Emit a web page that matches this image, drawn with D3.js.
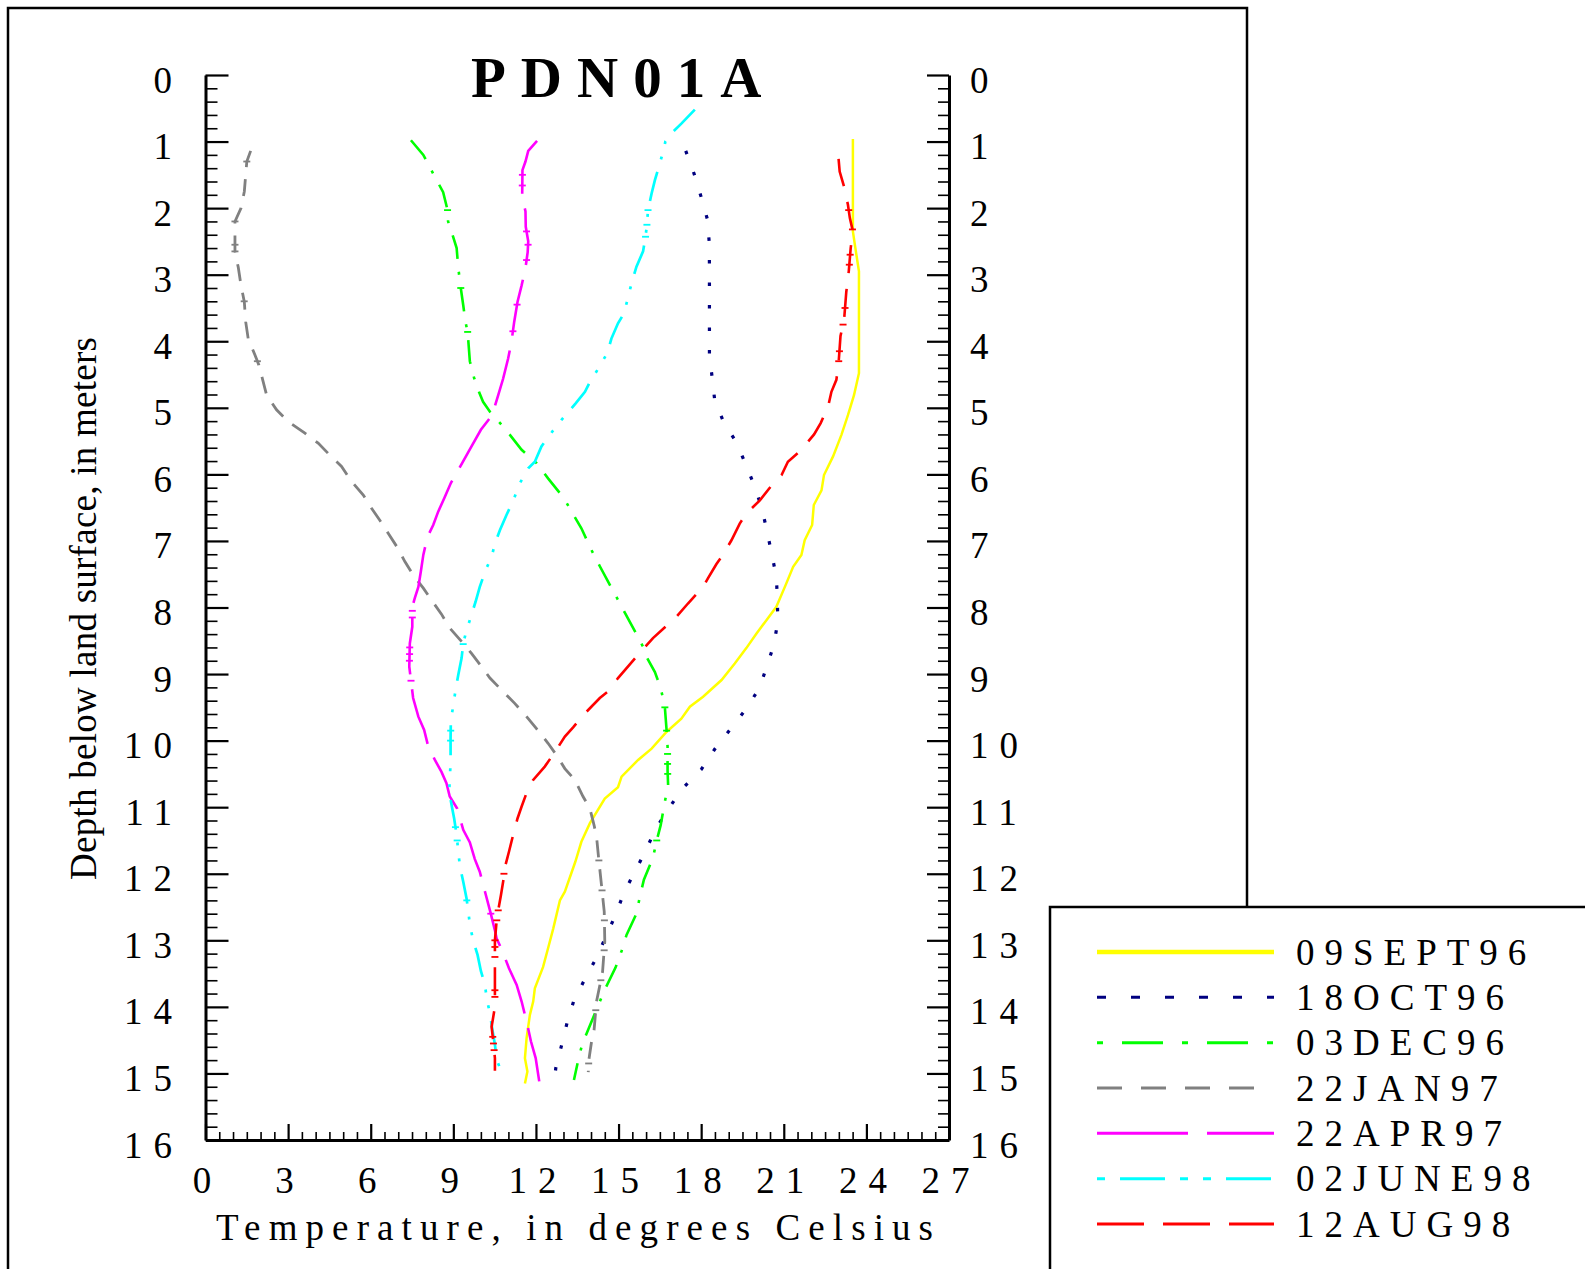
<!DOCTYPE html>
<html><head><meta charset="utf-8">
<script src="https://cdn.jsdelivr.net/npm/d3@7"></script>
<style>body{margin:0;background:#fff}svg{display:block}</style>
</head><body>
<svg id="c" width="1585" height="1269"></svg>
<script>
// ---- data: [depth (m), temperature (deg C)] ----
const sep96 = [[0.96,23.51],[2.35,23.51],[2.6,23.6],[2.95,23.73],[4.48,23.73],[4.81,23.55],[5.11,23.33],[5.41,23.09],[5.73,22.79],[6.01,22.46],[6.24,22.37],[6.46,22.09],[6.76,22.03],[6.99,21.76],[7.21,21.64],[7.39,21.34],[7.66,21.07],[7.99,20.73],[8.19,20.37],[8.39,20.01],[8.61,19.64],[8.84,19.22],[9.09,18.74],[9.34,18.07],[9.49,17.59],[9.67,17.28],[9.87,16.74],[10.12,16.2],[10.29,15.71],[10.54,15.11],[10.7,14.98],[10.87,14.5],[11.24,13.96],[11.52,13.65],[11.82,13.43],[12.27,13.05],[12.4,12.87],[12.82,12.63],[13.12,12.44],[13.4,12.26],[13.72,11.96],[13.92,11.9],[14.12,11.78],[14.47,11.66],[14.77,11.6],[14.97,11.69],[15.15,11.6]];
const oct96 = [[1.14,17.44],[1.48,17.74],[1.82,17.99],[2.16,18.22],[2.5,18.29],[2.85,18.3],[4.21,18.3],[4.55,18.4],[4.88,18.49],[5.22,18.82],[5.52,19.28],[5.85,19.62],[6.19,19.95],[6.52,20.21],[6.85,20.39],[7.21,20.57],[7.54,20.73],[7.89,20.77],[8.22,20.78],[8.56,20.64],[8.9,20.37],[9.2,20.13],[9.52,19.64],[9.83,19.06],[10.13,18.49],[10.43,18.01],[10.71,17.34],[11.02,16.82],[11.33,16.34],[11.65,15.99],[11.97,15.59],[12.28,15.2],[12.62,14.89],[12.95,14.53],[13.26,14.2],[13.58,13.78],[13.9,13.38],[14.24,13.13],[14.58,12.93],[14.92,12.72],[15.0,12.7]];
const dec96 = [[0.98,7.46],[1.2,7.91],[1.53,8.33],[1.76,8.63],[2.03,8.79],[2.2,8.81],[2.35,8.93],[2.6,9.12],[2.9,9.18],[3.2,9.27],[3.46,9.36],[3.71,9.44],[3.86,9.52],[4.3,9.6],[4.56,9.76],[4.76,9.93],[4.91,10.08],[5.06,10.33],[5.31,10.87],[5.63,11.48],[5.83,12.02],[6.06,12.44],[6.36,13.02],[6.6,13.35],[6.81,13.65],[7.14,14.02],[7.38,14.32],[7.61,14.62],[7.94,15.05],[8.17,15.35],[8.4,15.65],[8.59,15.89],[8.74,16.01],[8.97,16.32],[9.21,16.53],[9.49,16.68],[9.82,16.74],[10.09,16.78],[10.45,16.78],[10.67,16.8],[10.92,16.68],[11.27,16.53],[11.51,16.38],[11.76,16.25],[12.09,15.92],[12.35,15.77],[12.6,15.65],[12.92,15.29],[13.16,15.11],[13.41,14.89],[13.74,14.5],[14.22,14.02],[14.56,13.68],[14.81,13.53],[15.1,13.38]];
const jan97 = [[1.14,1.64],[1.3,1.5],[1.75,1.41],[2.0,1.29],[2.2,1.07],[2.65,1.07],[2.89,1.19],[3.16,1.29],[3.41,1.41],[3.71,1.46],[3.96,1.55],[4.21,1.8],[4.36,1.94],[4.81,2.22],[5.03,2.58],[5.21,3.01],[5.38,3.61],[5.53,4.09],[5.73,4.56],[5.88,4.94],[6.11,5.31],[6.31,5.73],[6.51,6.03],[6.69,6.33],[6.89,6.64],[7.1,6.97],[7.31,7.24],[7.51,7.54],[7.71,7.91],[7.89,8.21],[8.1,8.57],[8.31,8.87],[8.54,9.36],[8.69,9.66],[8.89,10.03],[9.06,10.33],[9.29,10.87],[9.44,11.23],[9.64,11.66],[9.82,12.02],[10.04,12.44],[10.22,12.75],[10.42,13.05],[10.59,13.41],[10.84,13.71],[11.02,13.96],[11.27,14.11],[11.44,14.2],[11.78,14.28],[12.17,14.38],[12.57,14.48],[13.02,14.5],[13.47,14.42],[13.92,14.2],[14.35,14.11],[14.52,14.02],[14.8,13.92],[14.98,13.9]];
const apr97 = [[0.99,12.04],[1.14,11.72],[1.3,11.62],[1.43,11.51],[1.83,11.5],[2.05,11.62],[2.28,11.63],[2.5,11.72],[2.66,11.7],[2.9,11.62],[3.16,11.48],[3.41,11.33],[3.71,11.21],[4.01,11.11],[4.26,10.99],[4.56,10.81],[4.81,10.63],[5.11,10.41],[5.33,10.0],[5.58,9.66],[5.83,9.32],[6.13,8.91],[6.36,8.67],[6.56,8.45],[6.76,8.27],[6.94,8.06],[7.21,7.91],[7.46,7.82],[7.69,7.73],[7.86,7.6],[7.99,7.51],[8.29,7.51],[8.54,7.42],[8.89,7.4],[9.09,7.46],[9.36,7.54],[9.64,7.73],[9.84,7.94],[10.09,8.09],[10.29,8.33],[10.47,8.57],[10.64,8.75],[10.84,8.87],[11.02,9.14],[11.34,9.36],[11.53,9.6],[11.78,9.78],[11.97,9.96],[12.27,10.15],[12.6,10.36],[12.85,10.51],[12.97,10.57],[13.15,10.77],[13.42,11.02],[13.67,11.3],[13.92,11.48],[14.22,11.66],[14.52,11.82],[14.77,11.99],[15.12,12.12]];
const jun98 = [[0.52,17.77],[0.73,17.28],[0.88,16.91],[1.0,16.7],[1.08,16.66],[1.33,16.5],[1.58,16.32],[1.78,16.2],[2.03,16.07],[2.25,16.03],[2.43,15.98],[2.65,15.89],[2.88,15.65],[3.1,15.49],[3.33,15.35],[3.58,15.2],[3.73,14.98],[3.96,14.74],[4.17,14.6],[4.4,14.28],[4.61,13.96],[4.76,13.78],[4.93,13.45],[5.18,12.93],[5.37,12.57],[5.58,12.2],[5.81,11.96],[5.91,11.72],[6.13,11.42],[6.4,11.17],[6.61,10.93],[6.84,10.69],[7.04,10.51],[7.24,10.39],[7.44,10.17],[7.69,9.96],[7.91,9.81],[8.15,9.63],[8.34,9.48],[8.54,9.36],[8.76,9.3],[9.01,9.18],[9.24,9.08],[9.47,9.0],[9.69,8.91],[9.97,8.9],[10.34,8.9],[10.57,8.87],[10.77,8.85],[11.02,8.96],[11.17,9.03],[11.42,9.12],[11.67,9.18],[11.89,9.24],[12.12,9.36],[12.37,9.48],[12.62,9.56],[12.77,9.6],[13.0,9.72],[13.22,9.88],[13.46,10.0],[13.67,10.15],[13.87,10.21],[14.1,10.33],[14.32,10.41],[14.57,10.51],[14.8,10.58],[14.98,10.75]];
const aug98 = [[1.26,22.99],[1.45,23.03],[1.68,23.19],[1.95,23.33],[2.15,23.4],[2.35,23.51],[2.6,23.43],[2.95,23.36],[3.26,23.27],[3.68,23.19],[3.92,23.06],[4.33,22.99],[4.58,22.91],[4.76,22.73],[4.98,22.61],[5.23,22.34],[5.4,22.1],[5.51,21.88],[5.61,21.7],[5.81,21.15],[6.01,20.92],[6.16,20.57],[6.39,20.13],[6.59,19.64],[6.74,19.4],[6.99,19.1],[7.24,18.74],[7.35,18.55],[7.56,18.25],[7.69,18.07],[7.94,17.52],[8.14,17.1],[8.46,16.25],[8.71,15.71],[9.06,14.98],[9.26,14.62],[9.36,14.32],[9.62,13.71],[9.8,13.35],[9.94,13.05],[10.17,12.69],[10.39,12.32],[10.59,11.9],[10.74,11.7],[10.99,11.48],[11.17,11.33],[11.42,11.17],[11.67,11.02],[11.94,10.85],[12.09,10.82],[12.32,10.73],[12.55,10.63],[12.72,10.57],[13.0,10.51],[14.0,10.51],[14.3,10.39],[14.52,10.45],[14.77,10.51],[14.96,10.51]];

// depths where the original plot shows small "+" point markers
const decMarks = [2.03,3.2,3.86,9.5,9.85,10.2,10.35,10.5,11.5];
const janMarks = [1.3,2.2,2.55,2.65,3.4,4.3,11.8,12.25,12.7,13.15,13.6,14.05,14.85];
const aprMarks = [1.5,1.66,2.35,2.55,2.78,3.45,3.85,8.05,8.15,8.6,8.7,8.8,9.1,12.6];
const junMarks = [2.03,2.25,2.43,8.55,9.85,10.0,11.3,11.5,12.4];
const augMarks = [2.03,2.32,2.7,2.85,3.5,3.75,4.15,4.3,12.0,12.55,12.7,13.0,13.1,13.25,13.75,13.85,14.45,14.55,14.65];

const seriesNames = ["09SEPT96","18OCT96","03DEC96","22JAN97","22APR97","02JUNE98","12AUG98"];
const seriesData  = [sep96, oct96, dec96, jan97, apr97, jun98, aug98];
const seriesMarks = [[], [], decMarks, janMarks, aprMarks, junMarks, augMarks];
const seriesColors = ["#ffff00","#000080","#00ff00","#808080","#ff00ff","#00ffff","#ff0000"];
const plotDash   = [null,"3.5,19","24,13,3,13","17,12","57,15","30,13,3,13,3,13","28,16"];
const plotWidth  = [2.5,3.2,2.6,2.8,2.6,2.7,2.6];
const legendDash = [null,"9,25","6,19,41,19","25,19","91,19","8,15,45,15,8,15","47,19"];
const legendLen  = [177,177,177,157,177,177,177];

const yTicks = d3.range(0,17);
const xTicks = d3.range(0,28,3);
const titleText = "PDN01A";
const xTitle = "Temperature, in degrees Celsius";
const yTitle = "Depth below land surface, in meters";

// ---- layout ----
const svg = d3.select("#c");
const FONT = "'Liberation Serif','Times New Roman',serif";
const x = d3.scaleLinear().domain([0,27]).range([205.5,949]);
const y = d3.scaleLinear().domain([0,16]).range([75,1140]);

// outer frame
svg.append("rect").attr("x",8).attr("y",8).attr("width",1239).attr("height",1400)
  .attr("fill","none").attr("stroke","#000").attr("stroke-width",2.5);

// title
svg.append("text").attr("x",471).attr("y",96.5).text(titleText)
  .attr("font-family",FONT).attr("font-weight","bold").attr("font-size",57)
  .attr("letter-spacing",15).attr("fill","#000");

const S = 11; // tick label letter spacing
function styleLabels(g){
  g.selectAll("text").attr("font-family",FONT).attr("font-size",37)
    .attr("letter-spacing",S).attr("fill","#000");
}
const yMinor = d3.range(0,16.001,0.2).filter(v=>Math.abs(v-Math.round(v))>1e-6);
const xMinor = d3.range(0,27.001,0.5).filter(v=>Math.abs(v/3-Math.round(v/3))>1e-6);

// left axis
const gl = svg.append("g").attr("transform","translate(205.5,0)");
gl.append("g").call(d3.axisRight(y).tickValues(yMinor).tickSize(12).tickFormat(""))
  .call(g=>g.select(".domain").remove())
  .call(g=>g.selectAll("line").attr("stroke-width",1.6));
gl.append("g").call(d3.axisLeft(y).tickValues(yTicks).tickSizeInner(-23).tickSizeOuter(0).tickPadding(22.5))
  .call(styleLabels)
  .call(g=>g.selectAll("text").attr("dy",17))
  .call(g=>g.selectAll("line").attr("stroke-width",2.2))
  .call(g=>g.select(".domain").attr("stroke-width",3));

// right axis
const gr = svg.append("g").attr("transform","translate(949,0)");
gr.append("g").call(d3.axisLeft(y).tickValues(yMinor).tickSize(11).tickFormat(""))
  .call(g=>g.select(".domain").remove())
  .call(g=>g.selectAll("line").attr("stroke-width",1.6));
gr.append("g").call(d3.axisRight(y).tickValues(yTicks).tickSizeInner(-22).tickSizeOuter(0).tickPadding(21))
  .call(styleLabels)
  .call(g=>g.selectAll("text").attr("dy",17))
  .call(g=>g.selectAll("line").attr("stroke-width",2.2))
  .call(g=>g.select(".domain").attr("stroke-width",3));

// bottom axis
const gb = svg.append("g").attr("transform","translate(0,1140)");
gb.append("g").call(d3.axisTop(x).tickValues(xMinor).tickSize(8).tickFormat(""))
  .call(g=>g.select(".domain").remove())
  .call(g=>g.selectAll("line").attr("stroke-width",1.6));
gb.append("g").call(d3.axisBottom(x).tickValues(xTicks).tickSizeInner(-16).tickSizeOuter(0).tickPadding(0))
  .call(styleLabels)
  .call(g=>g.selectAll("text").attr("dy",null).attr("y",53).attr("dx",1.5))
  .call(g=>g.selectAll("line").attr("stroke-width",2.2))
  .call(g=>g.select(".domain").attr("stroke-width",3));

// axis titles
svg.append("text").attr("x",216).attr("y",1240).text(xTitle)
  .attr("font-family",FONT).attr("font-size",37).attr("fill","#000")
  .attr("textLength",717).attr("lengthAdjust","spacing");
svg.append("text").attr("transform","translate(96,880) rotate(-90)").text(yTitle)
  .attr("font-family",FONT).attr("font-size",37).attr("fill","#000")
  .attr("textLength",543).attr("lengthAdjust","spacing");

// series
const line = d3.line().x(d=>x(d[1])).y(d=>y(d[0]));
const plot = svg.append("g");
seriesData.forEach((data,i)=>{
  plot.append("path").datum(data).attr("d",line)
    .attr("fill","none").attr("stroke",seriesColors[i])
    .attr("stroke-width",plotWidth[i])
    .attr("stroke-dasharray",plotDash[i]);
  const depths = data.map(d=>d[0]), temps = data.map(d=>d[1]);
  const interp = dep => {
    const j = Math.max(1, Math.min(depths.length-1, d3.bisectLeft(depths, dep)));
    const t = (dep-depths[j-1])/(depths[j]-depths[j-1]);
    return temps[j-1] + t*(temps[j]-temps[j-1]);
  };
  plot.selectAll(null).data(seriesMarks[i]).join("line")
    .attr("x1",d=>x(interp(d))-3.5).attr("x2",d=>x(interp(d))+3.5)
    .attr("y1",d=>y(d)).attr("y2",d=>y(d))
    .attr("stroke",seriesColors[i]).attr("stroke-width",1.8);
});

// legend
const lg = svg.append("g");
lg.append("rect").attr("x",1050).attr("y",907).attr("width",700).attr("height",600)
  .attr("fill","#fff").attr("stroke","#000").attr("stroke-width",2.5);
const ly = d3.scaleLinear().domain([0,6]).range([952,1224]);
seriesNames.forEach((nm,i)=>{
  lg.append("line").attr("x1",1097).attr("x2",1097+legendLen[i]).attr("y1",ly(i)).attr("y2",ly(i))
    .attr("stroke",seriesColors[i]).attr("stroke-width",i===0?4.5:3)
    .attr("stroke-dasharray",legendDash[i]);
  lg.append("text").attr("x",1296).attr("y",ly(i)+12.5).text(nm)
    .attr("font-family",FONT).attr("font-size",37).attr("letter-spacing",10).attr("fill","#000");
});
</script>
</body></html>
